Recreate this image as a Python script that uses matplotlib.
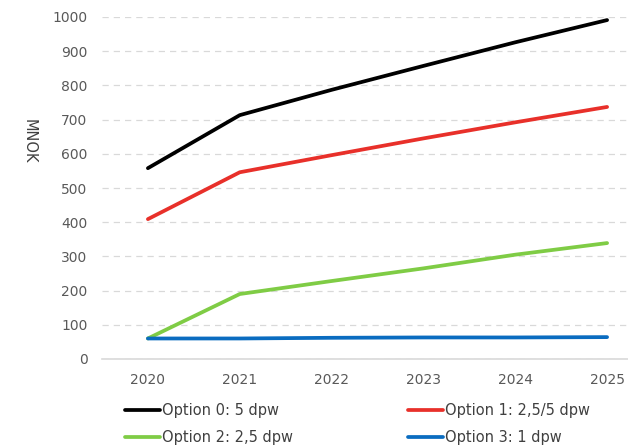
import matplotlib
matplotlib.use("Agg")
import matplotlib.pyplot as plt

# Datos
years = ["2020", "2021", "2022", "2023", "2024", "2025"]
option0 = [558, 713, 787, 857, 926, 991]
option1 = [409, 546, 596, 645, 692, 737]
option2 = [60, 190, 228, 265, 305, 339]
option3 = [60, 60, 62, 63, 63, 64]
labels = ["Option 0: 5 dpw", "Option 1: 2,5/5 dpw", "Option 2: 2,5 dpw", "Option 3: 1 dpw"]
colors = ["#000000", "#e8302a", "#7fcc45", "#0a6cc0"]

plt.rcParams["font.family"] = ["DejaVu Sans"]

fig = plt.figure(figsize=(6.28, 4.47), dpi=100)
W, H = 628, 447
x0, x1 = 102, 653
y0, y1 = 359, 17
ax = fig.add_axes([x0 / W, 1 - y0 / H, (x1 - x0) / W, (y0 - y1) / H])

xs = range(len(years))
handles = []
for vals, lab, col in zip([option0, option1, option2, option3], labels, colors):
    h, = ax.plot(xs, vals, color=col, lw=2.7, label=lab, solid_capstyle="round")
    handles.append(h)

ax.set_xlim(-0.5, len(years) - 0.5)
ax.set_ylim(0, 1000)
ax.set_yticks(range(0, 1001, 100))
ax.set_xticks(list(xs))
ax.set_xticklabels(years)
ax.tick_params(length=0, labelsize=10, colors="#595959")
ax.tick_params(axis="x", pad=10)
ax.tick_params(axis="y", pad=10.5)
ax.yaxis.grid(True, color="#d9d9d9", linestyle=(0, (5, 4)), lw=0.9)
ax.set_axisbelow(True)
for s in ["top", "right", "left"]:
    ax.spines[s].set_visible(False)
ax.spines["bottom"].set_color("#d9d9d9")
ax.spines["bottom"].set_linewidth(1.2)

fig.text(29 / W, 1 - 141 / H, "MNOK", rotation=270, fontsize=10.5, color="#404040",
         ha="center", va="center")

# Leyenda en dos columnas
order = [handles[0], handles[2], handles[1], handles[3]]
order_labels = [labels[0], labels[2], labels[1], labels[3]]
fig.legend(order, order_labels, ncol=2, loc="upper left",
           bbox_to_anchor=(125 / W, 1 - 403 / H), frameon=False, fontsize=10.5,
           handlelength=2.4, handletextpad=0.15, columnspacing=7.85, labelspacing=0.85,
           borderpad=0, borderaxespad=0, labelcolor="#404040")

fig.savefig("out.png", dpi=100)
